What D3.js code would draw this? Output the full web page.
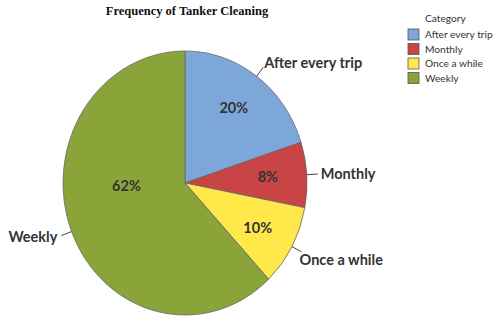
<!DOCTYPE html>
<html>
<head>
<meta charset="utf-8">
<script src="https://cdn.jsdelivr.net/npm/d3@7"></script>
<style>
  body { margin: 0; background: #fff; }
  svg { display: block; }
  .title { font-family: "Liberation Serif", serif; font-weight: bold; font-size: 12.5px; fill: #111; }
  .slice-label { font-family: Lato, sans-serif; font-weight: bold; font-size: 14.5px; fill: #333; }
  .pct { font-family: Lato, sans-serif; font-weight: bold; font-size: 14.5px; fill: #333; }
  .legend text { font-family: Lato, sans-serif; font-size: 10.2px; fill: #333; }
</style>
</head>
<body>
<svg id="chart" width="500" height="322"></svg>
<script>
// data
const categories = ["After every trip", "Monthly", "Once a while", "Weekly"];
const shares = [20, 8, 10, 62];
const sliceColors = ["#7da7d9", "#c94444", "#ffe94a", "#8aa43a"];
const chartTitle = "Frequency of Tanker Cleaning";
const legendTitle = "Category";

const svg = d3.select("#chart");

// pie is slightly taller than wide in the reference
const cx = 185, cy = 183, rx = 122, ry = 132;

svg.append("text")
    .attr("class", "title")
    .attr("x", cx + 2)
    .attr("y", 15)
    .attr("text-anchor", "middle")
    .text(chartTitle);

const data = categories.map((c, i) => ({ cat: c, value: shares[i] }));

const pie = d3.pie().sort(null).value(d => d.value);
const arcs = pie(data);

const color = d3.scaleOrdinal().domain(categories).range(sliceColors);

const unitArc = d3.arc().innerRadius(0).outerRadius(1);

// wedges
svg.append("g")
    .attr("transform", `translate(${cx},${cy}) scale(${rx},${ry})`)
    .selectAll("path")
    .data(arcs)
    .enter()
    .append("path")
    .attr("d", unitArc)
    .attr("fill", d => color(d.data.cat))
    .attr("stroke", "#666")
    .attr("stroke-width", 0.8)
    .attr("vector-effect", "non-scaling-stroke");

// point on the ellipse at angle a (0 = top, clockwise), pushed out by extra px
const onEdge = (a, extra) => [
    cx + (rx + extra) * Math.sin(a),
    cy - (ry + extra) * Math.cos(a)
];

const midAngle = d => (d.startAngle + d.endAngle) / 2;

// leader lines + outside labels
const outer = svg.append("g");
arcs.forEach(d => {
    const a = midAngle(d);
    const p0 = onEdge(a, 0);
    const p1 = onEdge(a, 11);
    outer.append("line")
        .attr("x1", p0[0]).attr("y1", p0[1])
        .attr("x2", p1[0]).attr("y2", p1[1])
        .attr("stroke", "#444")
        .attr("stroke-width", 1);
    const right = Math.sin(a) >= 0;
    const c = Math.cos(a);
    let dy = c < 0 ? -c * 16 : -c * 6;
    let dx = c < 0 ? -2 : (c > 0.3 ? 1 : 3);
    if (!right) { dy = 1; dx = -4; }
    outer.append("text")
        .attr("class", "slice-label")
        .attr("x", p1[0] + dx)
        .attr("y", p1[1] + dy)
        .attr("dy", "0.35em")
        .attr("text-anchor", right ? "start" : "end")
        .text(d.data.cat);
});

// percentage labels inside the wedges
const inner = svg.append("g");
const total = d3.sum(shares);
arcs.forEach(d => {
    const a = midAngle(d);
    let x, y;
    if (d.data.value / total > 0.5) {
        // the big wedge gets its label on the left half of the pie
        x = cx - rx * 0.48;
        y = cy + 3;
    } else {
        x = cx + rx * 0.68 * Math.sin(a);
        y = cy - ry * 0.7 * Math.cos(a);
    }
    inner.append("text")
        .attr("class", "pct")
        .attr("x", x)
        .attr("y", y)
        .attr("dy", "0.35em")
        .attr("text-anchor", "middle")
        .text(d3.format(".0f")(d.data.value) + "%");
});

// legend
const legend = svg.append("g").attr("class", "legend");
legend.append("text")
    .attr("x", 425)
    .attr("y", 22)
    .text(legendTitle);

const items = legend.selectAll(".item")
    .data(categories)
    .enter()
    .append("g")
    .attr("class", "item")
    .attr("transform", (d, i) => `translate(408, ${29 + i * 14.5})`);

items.append("rect")
    .attr("width", 11)
    .attr("height", 11)
    .attr("fill", d => color(d))
    .attr("stroke", "#555")
    .attr("stroke-width", 0.8);

items.append("text")
    .attr("x", 17)
    .attr("y", 9)
    .text(d => d);
</script>
</body>
</html>
